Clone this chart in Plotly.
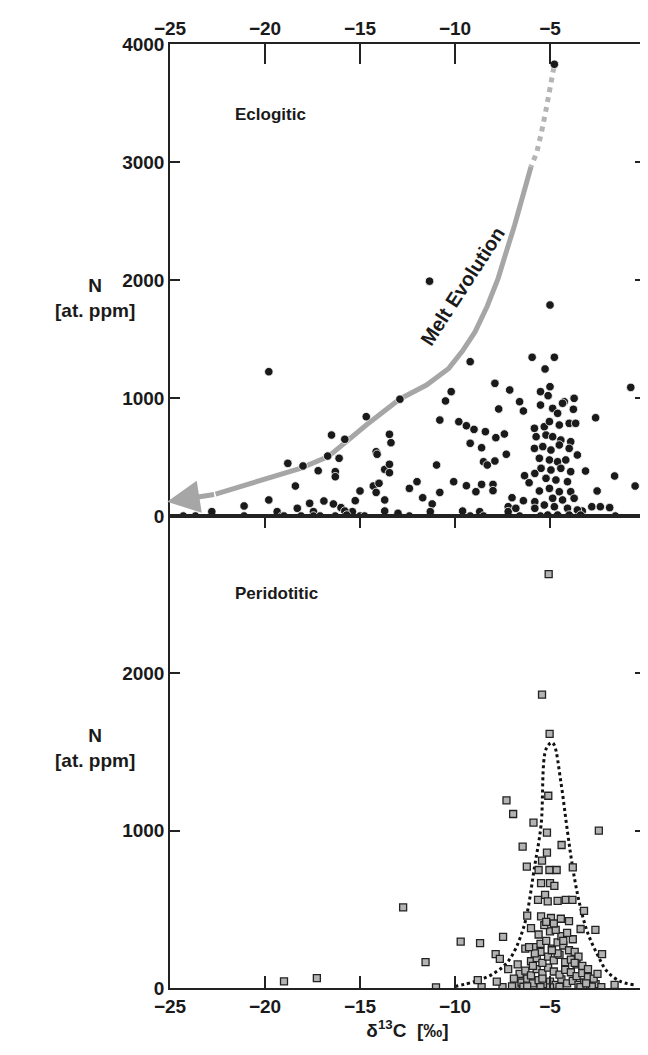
import plotly.graph_objects as go
from plotly.subplots import make_subplots

# Eclogitic diamonds: d13C (permil) and N (at. ppm)
ecl_x = [-4.77, -11.34, -5.0, -19.8, -9.2, -5.94, -4.77, -5.26, -7.9, -7.12, -10.2, -5.0, -5.5, -5.1,
         -0.75, -10.5, -6.6, -6.4, -7.7, -5.5, -4.25, -3.73, -3.77, -4.86, -12.9, -14.67, -10.8, -2.6,
         -9.8, -9.4, -9.0, -8.4, -7.85, -7.4, -16.5, -15.8, -13.45, -13.37, -9.2, -8.6, -7.3, -7.9,
         -8.5, -8.3, -14.15, -14.1, -16.7, -16.1, -18.8, -18.0, -10.97, -13.7, -13.45, -13.45, -17.2,
         -16.3, -16.3, -6.34, -5.8, -3.13, -1.6, -0.52, -10.07, -12.0, -9.4, -8.9, -8.6, -8.0, -8.0,
         -6.1, -5.56, -2.52, -18.4, -14.3, -14.0, -14.15, -13.7, -15.0, -15.25, -12.4, -11.7, -11.2,
         -10.8, -19.8, -16.9, -16.4, -16.0, -17.65, -18.3, -17.45, -7.0, -6.4, -7.2, -5.8, -5.8, -21.1,
         -22.8, -19.36, -19.1, -15.4, -15.8, -13.7, -13.0, -11.3, -9.6, -8.7, -6.6, -5.5, -3.3, -2.8,
         -2.35, -1.86, -1.56,
         -5.82, -5.30, -5.03, -4.51, -3.99, -3.65, -5.73, -5.21, -4.86, -4.43, -3.91, -5.82, -5.38,
         -4.95, -4.51, -3.99, -3.56, -5.56, -5.03, -4.60, -4.17, -5.47, -4.95, -4.43, -3.91, -5.21,
         -4.69, -4.08, -5.03, -4.51, -3.91, -4.86, -4.34, -3.73, -5.30, -4.77, -4.08, -3.56, -5.12,
         -4.60, -3.99, -3.39, -4.34, -4.60,
         -24.3, -23.66, -21.1, -19.0, -18.1, -17.45, -17.1, -16.3, -15.7, -15.0, -14.76, -12.4, -9.2,
         -8.5, -7.2, -6.8]
ecl_y = [3828, 1990, 1788, 1223, 1308, 1345, 1345, 1246, 1124, 1068, 1054, 1096, 1054, 1020,
         1090, 975, 969, 890, 907, 940, 969, 997, 904, 912, 990, 842, 813, 833,
         799, 765, 734, 715, 664, 695, 686, 650, 692, 621, 616, 579, 523, 466,
         460, 432, 545, 523, 508, 489, 446, 424, 432, 395, 438, 367, 384,
         376, 333, 342, 361, 381, 339, 254, 291, 291, 257, 206, 268, 268, 215,
         282, 212, 212, 254, 254, 277, 200, 136, 212, 130, 234, 155, 102,
         200, 136, 127, 102, 71, 107, 65, 37, 155, 130, 79, 121, 65, 85,
         37, 37, 0, 37, 42, 42, 23, 37, 42, 37, 0, 0, 42, 79,
         79, 71, 0,
         743, 757, 800, 771, 785, 785, 672, 686, 672, 644, 630, 573, 588,
         559, 602, 573, 517, 489, 475, 460, 475, 404, 390, 404, 376, 319,
         305, 291, 234, 206, 206, 150, 136, 150, 93, 79, 65, 51, 8,
         8, 8, 8, 955, 870,
         0, 0, 0, 0, 0, 0, 0, 0, 8, 0, 0, 0, 0,
         0, 37, 65]

# Peridotitic diamonds
per_x = [-5.07, -5.42, -5.02, -5.09, -7.29, -6.94, -5.87, -2.43, -5.16, -6.44, -4.39, -5.16, -5.42,
         -6.22, -3.8, -5.6, -5.03, -4.65, -5.47, -5.0, -4.77, -5.26, -5.63, -5.12, -4.6, -4.17, -3.82,
         -12.73, -3.21, -6.2, -5.47, -4.95, -4.43, -4.0, -2.61, -3.39, -9.7, -8.68, -7.47, -7.86, -7.64,
         -2.26, -11.55, -19.0, -17.27, -11.0,
         -6.8, -6.5, -6.2, -5.9, -5.6, -5.3, -5.0, -4.7, -4.4, -4.1, -3.8, -3.5, -3.2, -2.9, -2.6,
         -6.6, -6.3, -6.0, -5.7, -5.4, -5.1, -4.8, -4.5, -4.2, -3.9, -3.6, -3.3, -3.0, -2.7,
         -6.0, -5.7, -5.4, -5.1, -4.8, -4.5, -4.2, -3.9, -3.6, -3.3,
         -5.8, -5.5, -5.2, -4.9, -4.6, -4.3, -4.0, -3.7,
         -7.5, -7.0, -6.4, -5.5, -5.0, -4.5, -3.4, -2.8, -2.3, -8.6, -7.8, -6.9, -6.2, -3.1, -1.6,
         -5.6, -5.0, -4.4, -3.8, -6.0, -5.3, -4.7, -4.1, -5.2, -4.8, -5.5, -4.6, -6.3, -3.5,
         -7.2, -6.7, -5.9, -5.8, -5.4, -4.9, -4.3, -3.7, -2.5, -8.8, -6.1, -3.0]
per_y = [2630, 1865, 1615, 1222, 1192, 1106, 1051, 1000, 987, 898, 909, 860, 810,
         772, 767, 750, 750, 750, 666, 666, 649, 592, 560, 550, 554, 560, 560,
         512, 490, 460, 455, 445, 440, 425, 370, 375, 295, 285, 325, 215, 185,
         215, 165, 42, 63, 4,
         20, 35, 60, 30, 50, 25, 40, 20, 55, 30, 45, 20, 35, 15, 25,
         90, 110, 80, 120, 95, 130, 105, 85, 115, 100, 75, 95, 70, 60,
         170, 190, 160, 200, 175, 210, 165, 180, 150, 140,
         260, 280, 300, 250, 290, 270, 240, 230,
         5, 10, 8, 6, 4, 7, 5, 9, 6, 5, 40, 60, 10, 30, 20,
         340, 360, 330, 310, 380, 400, 370, 350, 420, 410, 230, 220, 250, 200,
         120, 150, 140, 220, 60, 240, 300, 160, 90, 50, 260, 120]

# fitted distribution curve (dotted)
fit_x = [-10.0, -8.94, -8.07, -7.2, -6.4, -5.8, -5.47, -5.2, -4.9, -4.77, -4.43, -4.08, -3.8,
         -3.47, -3.04, -2.5, -2.0, -1.3, -0.6]
fit_y = [10, 42, 85, 170, 380, 780, 1036, 1522, 1560, 1543, 1311, 994, 761,
         550, 359, 211, 106, 42, 21]

# melt evolution trend
melt_dash_x = [-4.8, -4.95, -5.2, -5.45, -5.7, -6.0]
melt_dash_y = [3800, 3650, 3450, 3250, 3080, 2960]
melt_x = [-6.0, -6.3, -6.86, -7.3, -7.73, -8.3, -8.94, -9.6, -10.33, -11.5, -12.9, -14.67, -16.67,
          -18.14, -20.4, -22.6]
melt_y = [2960, 2780, 2466, 2240, 2014, 1780, 1562, 1400, 1251, 1110, 992, 771, 503,
          404, 291, 185]

FONT = "Liberation Sans, Arial"
grey = "#a6a6a6"

fig = make_subplots(rows=2, cols=1, vertical_spacing=0)

fig.add_trace(go.Scatter(x=melt_dash_x, y=melt_dash_y, mode="lines",
                         line=dict(color="#b5b5b5", width=5, dash="dot")), row=1, col=1)
fig.add_trace(go.Scatter(x=melt_x, y=melt_y, mode="lines",
                         line=dict(color=grey, width=5)), row=1, col=1)
fig.add_trace(go.Scatter(x=ecl_x, y=ecl_y, mode="markers",
                         marker=dict(color="#1a1a1a", size=8.5, symbol="circle",
                                     line=dict(color="white", width=0.8))), row=1, col=1)
fig.add_trace(go.Scatter(x=fit_x, y=fit_y, mode="lines", line_shape="spline",
                         line=dict(color="#111", width=3, dash="dot")), row=2, col=1)
fig.add_trace(go.Scatter(x=per_x, y=per_y, mode="markers",
                         marker=dict(color="#b3b3b3", size=7, symbol="square",
                                     line=dict(color="#222", width=1.3))), row=2, col=1)

fig.add_annotation(x=-25.15, y=120, ax=-22.6, ay=185, xref="x", yref="y", axref="x", ayref="y",
                   showarrow=True, arrowhead=2, arrowsize=1.3, arrowwidth=5, arrowcolor=grey, text="")
fig.add_annotation(x=-9.6, y=1950, xref="x", yref="y", text="<b>Melt Evolution</b>", showarrow=False,
                   textangle=-57, font=dict(size=20, color="#1a1a1a"))
fig.add_annotation(x=-19.7, y=3400, xref="x", yref="y", text="<b>Eclogitic</b>", showarrow=False,
                   font=dict(size=17, color="#1a1a1a"))
fig.add_annotation(x=-19.4, y=2510, xref="x2", yref="y2", text="<b>Peridotitic</b>", showarrow=False,
                   font=dict(size=17, color="#1a1a1a"))
for yy in [0.731, 0.254]:
    fig.add_annotation(x=-0.158, y=yy, xref="paper", yref="paper", xanchor="center", yanchor="middle",
                       text="<b>N<br>[at. ppm]</b>", showarrow=False,
                       font=dict(size=19, color="#1a1a1a"), align="center")

axis_common = dict(showgrid=False, zeroline=False, showline=True, linecolor="#222", linewidth=1.5,
                   ticks="inside", tickcolor="#222", tickwidth=1.5,
                   tickfont=dict(size=19, color="#1a1a1a", family=FONT, weight="bold"))
fig.update_xaxes(axis_common, range=[-25, 0], tickvals=[-25, -20, -15, -10, -5, 0],
                 ticklabeloverflow="allow")
fig.update_xaxes(side="top", ticklen=20, mirror=True, row=1, col=1)
fig.update_xaxes(ticklen=12, mirror="ticks", row=2, col=1,
                 title=dict(text="<b>δ<sup>13</sup>C  [‰]</b>", font=dict(size=19, color="#1a1a1a"),
                            standoff=2))
fig.update_yaxes(axis_common, ticklen=10, mirror="ticks", ticklabeloverflow="allow")
fig.update_yaxes(range=[0, 4000], tickvals=[0, 1000, 2000, 3000, 4000], row=1, col=1)
fig.update_yaxes(range=[0, 3000], tickvals=[0, 1000, 2000], row=2, col=1)

fig.update_layout(width=648, height=1055, showlegend=False, plot_bgcolor="white", paper_bgcolor="white",
                  margin=dict(l=162, r=6, t=36, b=75),
                  font=dict(family=FONT, color="#1a1a1a"))
fig.write_html("out.html")
